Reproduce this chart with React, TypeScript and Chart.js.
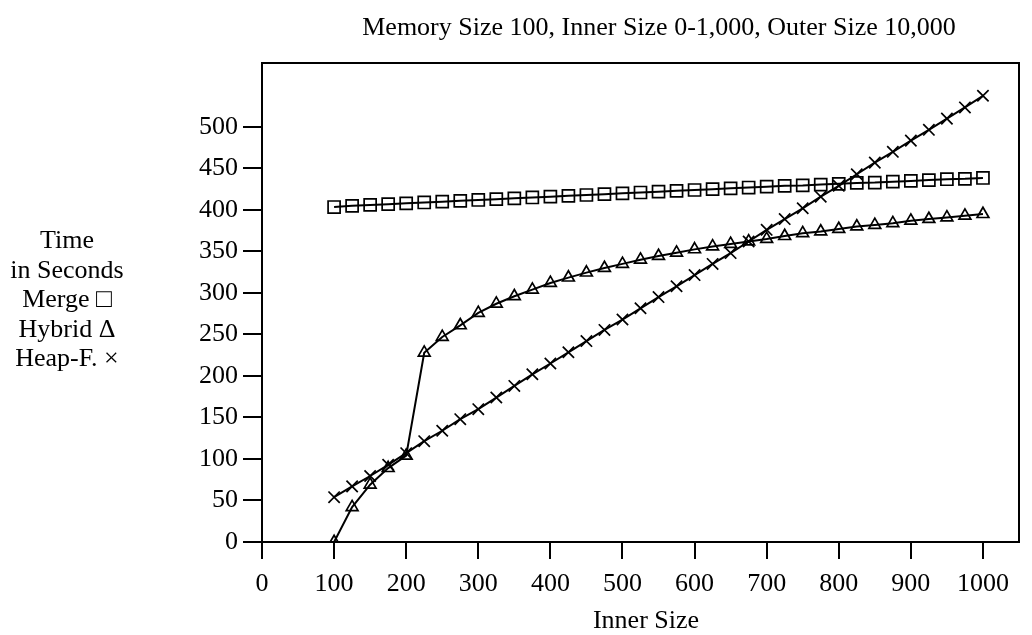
import React, { useEffect, useRef } from "react";
import { Chart, registerables } from "chart.js";

Chart.register(...registerables);

const TITLE = "Memory Size 100, Inner Size 0-1,000, Outer Size 10,000";
const X_TITLE = "Inner Size";
const Y_LEGEND_LINES = ["Time", "in Seconds", "Merge \u25A1", "Hybrid \u0394", "Heap-F. \u00D7"];

const innerSizes = [
  100, 125, 150, 175, 200, 225, 250, 275, 300, 325, 350, 375, 400, 425, 450, 475, 500, 525, 550,
  575, 600, 625, 650, 675, 700, 725, 750, 775, 800, 825, 850, 875, 900, 925, 950, 975, 1000,
];

const mergeTimes = [
  403.5, 405, 406, 407, 408, 409, 410, 411, 412, 413, 414, 415, 416, 417, 418, 419, 420, 421, 422,
  423, 424, 425, 426, 427, 428, 429, 429.5, 430.5, 431.5, 432.5, 433, 434, 435, 436, 437, 437.5, 438.5,
];

const hybridTimes = [
  0, 42, 69, 89, 104, 228, 247, 261, 276, 287, 296, 304, 312, 318.5, 324.5, 330, 335, 340, 344.5,
  348.5, 352.5, 356, 359, 362, 365, 368.5, 372, 374, 377, 380, 382, 384, 387, 389, 391, 393, 395,
];

const heapTimes = [
  54, 67, 79.5, 93, 107, 121.5, 134, 148, 160, 174, 188, 202, 215, 228.5, 242, 255.5, 268, 281.5, 295,
  308, 321.5, 335, 348, 362, 376, 389, 402, 416, 429, 443, 457, 470, 483.5, 496.5, 510, 523.5, 537.5,
];

const xTicks = [0, 100, 200, 300, 400, 500, 600, 700, 800, 900, 1000];
const yTicks = [0, 50, 100, 150, 200, 250, 300, 350, 400, 450, 500];

const FONT_FAMILY = '"Liberation Serif", "Times New Roman", serif';

function toPoints(values: number[]) {
  return innerSizes.map((x, i) => ({ x, y: values[i] }));
}

const textPlugin = {
  id: "paperTexts",
  afterDraw(chart: any) {
    const ctx = chart.ctx as CanvasRenderingContext2D;
    const { left, top, right, bottom } = chart.chartArea;
    ctx.save();
    ctx.strokeStyle = "#000";
    ctx.lineWidth = 2;
    ctx.beginPath();
    ctx.moveTo(left, top);
    ctx.lineTo(right, top);
    ctx.lineTo(right, bottom);
    ctx.stroke();

    ctx.fillStyle = "#000";
    ctx.font = `26px ${FONT_FAMILY}`;
    ctx.textAlign = "center";
    ctx.textBaseline = "alphabetic";
    ctx.fillText(TITLE, 659, 35);
    Y_LEGEND_LINES.forEach((line, i) => {
      ctx.fillText(line, 67, 248 + i * 29.5);
    });
    ctx.fillText(X_TITLE, 646, 628);
    ctx.restore();
  },
};

export default function App() {
  const canvasRef = useRef<HTMLCanvasElement | null>(null);

  useEffect(() => {
    document.body.style.margin = "0";
    const canvas = canvasRef.current;
    if (!canvas) return;
    const common = {
      borderColor: "#000",
      backgroundColor: "transparent",
      pointBackgroundColor: "transparent",
      pointBorderColor: "#000",
      borderWidth: 2,
      pointBorderWidth: 1.7,
      showLine: true,
      tension: 0,
    };
    const chart = new Chart(canvas, {
      type: "scatter",
      data: {
        datasets: [
          { ...common, label: "Merge", data: toPoints(mergeTimes), pointStyle: "rect", pointRadius: 8.5 },
          { ...common, label: "Hybrid", data: toPoints(hybridTimes), pointStyle: "triangle", pointRadius: 6.8 },
          { ...common, label: "Heap-F.", data: toPoints(heapTimes), pointStyle: "crossRot", pointRadius: 8 },
        ],
      },
      options: {
        animation: false,
        responsive: false,
        devicePixelRatio: 1,
        layout: { padding: { top: 63, right: 13, left: 0, bottom: 0 } },
        plugins: {
          legend: { display: false },
          title: { display: false },
          tooltip: { enabled: false },
        },
        scales: {
          x: {
            type: "linear",
            min: 0,
            max: 1050,
            afterBuildTicks: (scale: any) => {
              scale.ticks = xTicks.map((v) => ({ value: v }));
            },
            afterFit: (scale: any) => {
              scale.height = 93;
            },
            grid: { drawOnChartArea: false, drawTicks: true, tickLength: 17, color: "#000", lineWidth: 2 },
            border: { display: true, color: "#000", width: 2 },
            ticks: {
              autoSkip: false,
              maxRotation: 0,
              padding: 10,
              color: "#000",
              font: { family: FONT_FAMILY, size: 26 },
              callback: (v: any) => String(v),
            },
            title: { display: false },
          },
          y: {
            type: "linear",
            min: 0,
            max: 577,
            afterBuildTicks: (scale: any) => {
              scale.ticks = yTicks.map((v) => ({ value: v }));
            },
            afterFit: (scale: any) => {
              scale.width = 262;
            },
            grid: { drawOnChartArea: false, drawTicks: true, tickLength: 19, color: "#000", lineWidth: 2 },
            border: { display: true, color: "#000", width: 2 },
            ticks: {
              autoSkip: false,
              padding: 5,
              color: "#000",
              font: { family: FONT_FAMILY, size: 26 },
              callback: (v: any) => String(v),
            },
          },
        },
      },
      plugins: [textPlugin],
    } as any);
    return () => chart.destroy();
  }, []);

  return (
    <div style={{ position: "absolute", left: 0, top: 0, width: 1032, height: 635, background: "#fff" }}>
      <canvas ref={canvasRef} width={1032} height={635} />
    </div>
  );
}
